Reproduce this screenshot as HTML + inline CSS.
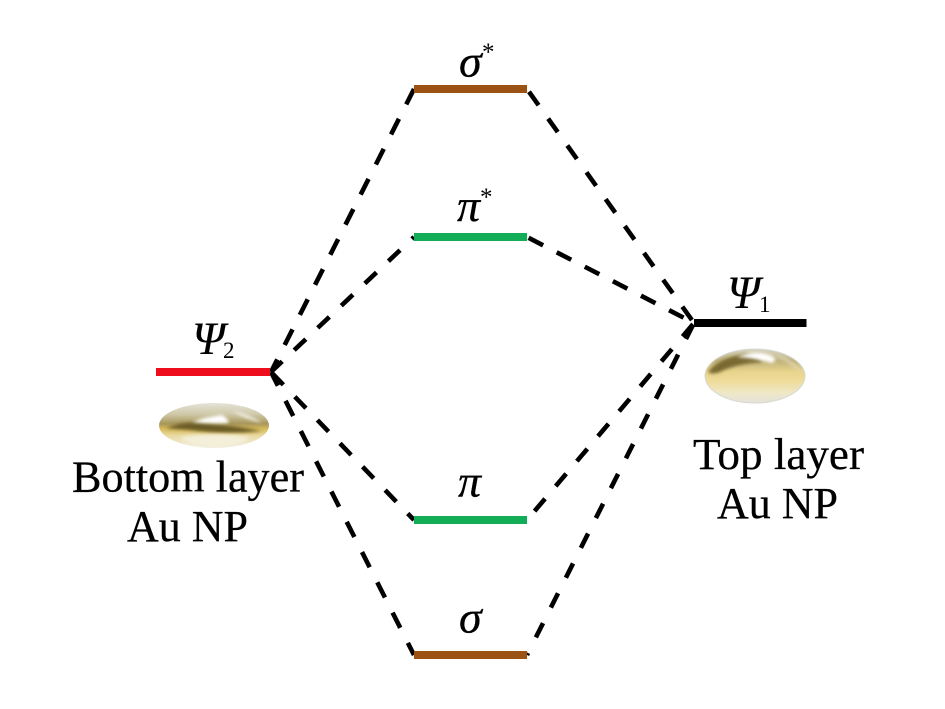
<!DOCTYPE html>
<html>
<head>
<meta charset="utf-8">
<style>
html,body{margin:0;padding:0;background:#fff}
svg{display:block}
text{font-family:"Liberation Serif",serif;fill:#000}
.i{font-style:italic;stroke:#000;stroke-width:.3px}
.p{font-style:italic;stroke:#000;stroke-width:.1px}
.t{stroke:#000;stroke-width:.25px}
</style>
</head>
<body>
<svg width="945" height="709" viewBox="0 0 945 709" xmlns="http://www.w3.org/2000/svg">
<defs>
<linearGradient id="g1" x1="0" y1="0" x2="0" y2="1">
<stop offset="0" stop-color="#e6e3d8"/>
<stop offset=".25" stop-color="#cfc8a8"/>
<stop offset=".46" stop-color="#a8975a"/>
<stop offset=".58" stop-color="#d8bc5c"/>
<stop offset=".72" stop-color="#ead9a0"/>
<stop offset="1" stop-color="#f3f1e8"/>
</linearGradient>
<linearGradient id="g2" x1="0" y1="0" x2="0" y2="1">
<stop offset="0" stop-color="#d8d4c0"/>
<stop offset=".22" stop-color="#c0b27a"/>
<stop offset=".42" stop-color="#e8d48c"/>
<stop offset=".6" stop-color="#efdc9c"/>
<stop offset=".82" stop-color="#efe8c8"/>
<stop offset="1" stop-color="#e4e2da"/>
</linearGradient>
<filter id="b" x="-30%" y="-100%" width="160%" height="300%"><feGaussianBlur stdDeviation="1.5"/></filter>
<clipPath id="c1"><ellipse cx="214" cy="425.500" rx="55" ry="22.500"/></clipPath>
<clipPath id="c2"><ellipse cx="755" cy="376" rx="50" ry="27"/></clipPath>
</defs>

<g stroke="#000" stroke-width="4.6" fill="none">
<line x1="414" y1="89" x2="271" y2="372" stroke-dasharray="17.500 16.2" stroke-dashoffset="0.3"/>
<line x1="414" y1="237" x2="271" y2="372" stroke-dasharray="16 16.4" stroke-dashoffset="13.2"/>
<line x1="414" y1="520" x2="271" y2="372" stroke-dasharray="16 16.5" stroke-dashoffset="7"/>
<line x1="414" y1="655" x2="271" y2="372" stroke-dasharray="17 16.9" stroke-dashoffset="3.4"/>
<line x1="527" y1="89" x2="694" y2="323" stroke-dasharray="16.500 16.5" stroke-dashoffset="29.6"/>
<line x1="527" y1="237" x2="694" y2="323" stroke-dasharray="16.300 15.3" stroke-dashoffset="29.8"/>
<line x1="527" y1="520" x2="694" y2="323" stroke-dasharray="16.200 16.5" stroke-dashoffset="21"/>
<line x1="527" y1="655" x2="694" y2="323" stroke-dasharray="16 17.4" stroke-dashoffset="13.7"/>
</g>

<rect x="414" y="85" width="113" height="8" fill="#9c5213"/>
<rect x="414" y="233" width="113" height="8" fill="#12ad56"/>
<rect x="414" y="516" width="113" height="8" fill="#12ad56"/>
<rect x="414" y="651" width="113" height="8" fill="#9c5213"/>
<rect x="156" y="368" width="114" height="8" fill="#ee0d1c"/>
<rect x="694" y="319" width="112.500" height="8" fill="#000"/>

<ellipse cx="214" cy="425.500" rx="55" ry="22.500" fill="url(#g1)"/>
<g clip-path="url(#c1)">
<path d="M166 428Q185 421 205 423Q235 426 262 431Q225 435 190 430Q175 429 166 428Z" fill="#6a5b26" filter="url(#b)"/>
<path d="M192 422Q205 417 222 415Q230 420 228 423Q210 424 192 422Z" fill="#fff" filter="url(#b)"/>
<path d="M232 411Q250 415 262 423Q245 418 232 411Z" fill="#fff" filter="url(#b)"/>
<path d="M180 437Q214 432 250 437Q240 447 214 447Q190 447 180 437Z" fill="#f4efd8" filter="url(#b)"/>
</g>

<ellipse cx="755" cy="376" rx="50" ry="27" fill="url(#g2)" stroke="#d8d8d2" stroke-width="1"/>
<g clip-path="url(#c2)">
<path d="M708 372Q718 358 745 354Q760 356 762 362Q735 364 720 372Q712 375 708 372Z" fill="#7a6a30" filter="url(#b)"/>
<path d="M737 357Q755 349 772 356Q778 360 772 363Q755 358 737 357Z" fill="#fff" filter="url(#b)"/>
<path d="M775 355Q792 360 802 372Q790 362 775 355Z" fill="#f4f0e4" filter="url(#b)"/>
</g>

<text class="t" x="72" y="491.500" font-size="44" textLength="232" lengthAdjust="spacingAndGlyphs">Bottom layer</text>
<text class="t" x="127" y="541" font-size="44">Au NP</text>
<text class="t" x="693" y="469" font-size="44" textLength="171" lengthAdjust="spacingAndGlyphs">Top layer</text>
<text class="t" x="717" y="518" font-size="44">Au NP</text>

<text class="p" x="192" y="354" font-size="47">Ψ</text>
<text x="223" y="358" font-size="23">2</text>
<text class="p" x="727" y="308" font-size="47">Ψ</text>
<text x="759" y="312" font-size="23">1</text>

<text class="i" x="459" y="76.500" font-size="46">σ</text>
<text x="482" y="60" font-size="25">*</text>
<text class="i" x="457" y="221" font-size="46">π</text>
<text x="480" y="205" font-size="25">*</text>
<text class="i" x="458" y="496.500" font-size="46">π</text>
<text class="i" x="459" y="632.500" font-size="46">σ</text>
</svg>
</body>
</html>
